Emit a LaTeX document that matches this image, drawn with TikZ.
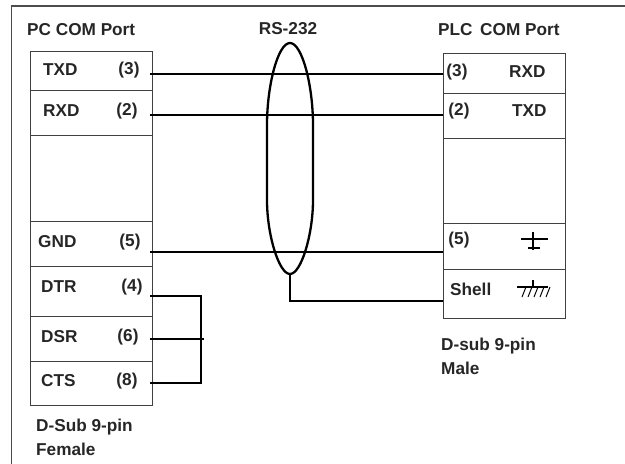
\documentclass[tikz,border=0pt]{standalone}
\usepackage{fontspec}
\setmainfont{Liberation Sans}
\usetikzlibrary{positioning}
\tikzset{
    cell/.style={draw=black!75, line width=1pt, minimum width=122pt, inner sep=0pt, anchor=north west},
    lbl/.style={font=\bfseries\fontsize{17.2}{19}\selectfont, text=black!85, inner sep=0pt},
    wire/.style={line width=2pt, black},
}
\begin{document}
\begin{tikzpicture}[x=1pt, y=-1pt]
    \useasboundingbox (0,0) rectangle (625,464);
    % outer frame
    \coordinate (framea) at (11.5,464);
    \coordinate (frameb) at (11.5,6);
    \coordinate (framec) at (625,6);
    \draw[black!70, line width=1.4pt] (framea) -- (frameb) -- (framec);
    % left connector
    \node[cell, minimum height=39pt] (ltxd) at (30,51) {};
    \node[cell, minimum height=45pt] (lrxd) at (30,90) {};
    \node[cell, minimum height=86pt] (lnc) at (30,135) {};
    \node[cell, minimum height=45pt] (lgnd) at (30,221) {};
    \node[cell, minimum height=50pt] (ldtr) at (30,266) {};
    \node[cell, minimum height=45pt] (ldsr) at (30,316) {};
    \node[cell, minimum height=44pt] (lcts) at (30,361) {};
    % right connector
    \node[cell, minimum height=40pt] (rrxd) at (443,53) {};
    \node[cell, minimum height=45pt] (rtxd) at (443,93) {};
    \node[cell, minimum height=85pt] (rnc) at (443,138) {};
    \node[cell, minimum height=46pt] (rgnd) at (443,223) {};
    \node[cell, minimum height=49pt] (rshell) at (443,269) {};
    % titles
    \node[lbl, anchor=west] (ltitle) at (27,30) {PC COM Port};
    \node[lbl] (cable) at (288,29) {RS-232};
    \node[lbl, anchor=west] (rtitle) at (438,30) {PLC\, COM Port};
    % left labels
    \node[lbl, anchor=west] (ltxdname) at (43,70) {TXD};
    \node[lbl] (ltxdnum) at (129,70) {(3)};
    \node[lbl, anchor=west] (lrxdname) at (43,111) {RXD};
    \node[lbl] (lrxdnum) at (127,111) {(2)};
    \node[lbl, anchor=west] (lgndname) at (38,242) {GND};
    \node[lbl] (lgndnum) at (130,242) {(5)};
    \node[lbl, anchor=west] (ldtrname) at (41,287) {DTR};
    \node[lbl] (ldtrnum) at (132,287) {(4)};
    \node[lbl, anchor=west] (ldsrname) at (41,337) {DSR};
    \node[lbl] (ldsrnum) at (128,337) {(6)};
    \node[lbl, anchor=west] (lctsname) at (41,381) {CTS};
    \node[lbl] (lctsnum) at (127,381) {(8)};
    \node[lbl, anchor=west] (lsubname) at (36,427) {D-Sub 9-pin};
    \node[lbl, anchor=west] (lsubtype) at (36,449) {Female};
    % right labels
    \node[lbl] (rrxdnum) at (457,72) {(3)};
    \node[lbl, anchor=west] (rrxdname) at (509,72) {RXD};
    \node[lbl] (rtxdnum) at (459,111) {(2)};
    \node[lbl, anchor=west] (rtxdname) at (512,111) {TXD};
    \node[lbl] (rgndnum) at (459,240) {(5)};
    \node[lbl, anchor=west] (rshellname) at (450,289) {Shell};
    \node[lbl, anchor=west] (rsubname) at (441,346) {D-sub 9-pin};
    \node[lbl, anchor=west] (rsubtype) at (441,368) {Male};
    % earth symbols
    \draw[line width=1.2pt] (533,232) -- (533,250);
    \draw[line width=1.2pt] (521,239) -- (548,239);
    \draw[line width=2pt] (528,248) -- (540,248);
    \draw[line width=1.1pt] (517,287) -- (548,287) (533,280) -- (533,287);
    \foreach \x in {527,533,539,545,551} {
        \draw[line width=1pt] (\x-1,287) -- (\x-5,297);
    }
    % pin ends
    \coordinate (pa) at (150,74);
    \coordinate (pb) at (150,115);
    \coordinate (pc) at (150,252);
    \coordinate (pd) at (150,296);
    \coordinate (pe) at (150,339);
    \coordinate (pf) at (150,383);
    \coordinate (qa) at (443,74);
    \coordinate (qb) at (443,115);
    \coordinate (qc) at (443,252);
    \coordinate (qd) at (443,301);
    \coordinate (bus) at (201,339);
    \coordinate (busend) at (204,339);
    \coordinate (drain) at (290,274);
    % wires
    \draw[wire] (pa) -- (qa);
    \draw[wire] (pb) -- (qb);
    \draw[wire] (pc) -- (qc);
    \draw[wire] (pd) -| (bus) |- (pf);
    \draw[wire] (pe) -- (busend);
    \draw[wire] (drain) |- (qd);
    % shield
    \draw[wire, line width=2.3pt] (drain) .. controls (279,274) and (267,235) .. (267,200)
        -- (267,125) .. controls (267,85) and (278,43) .. (290,43)
        .. controls (302,43) and (313,85) .. (313,125)
        -- (313,200) .. controls (313,235) and (301,274) .. (drain);
\end{tikzpicture}
\end{document}
